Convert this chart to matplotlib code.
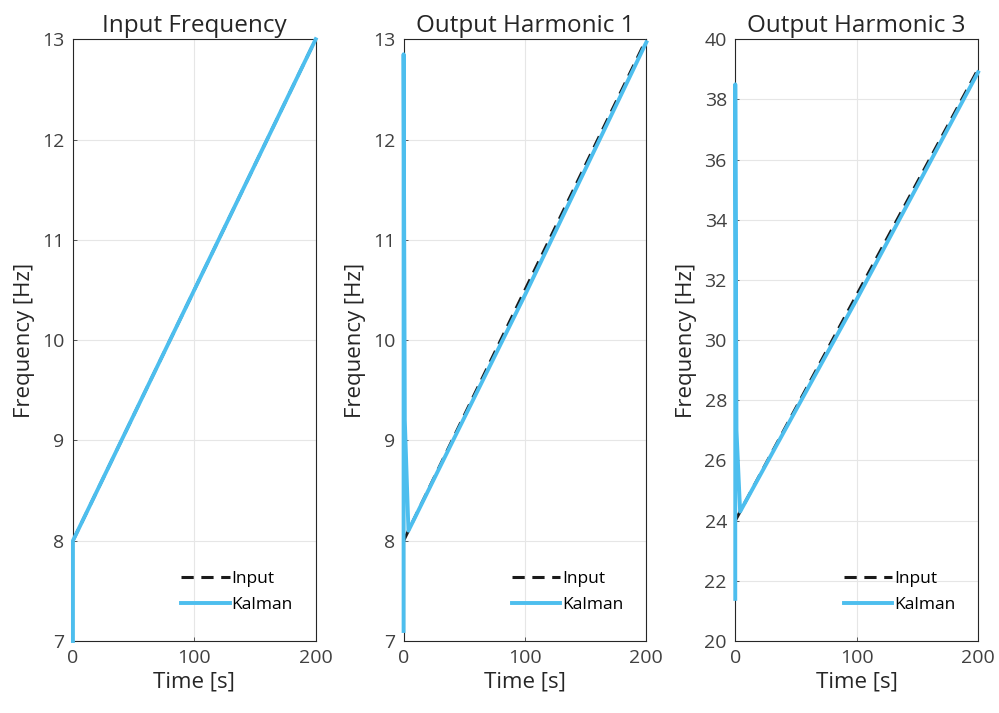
import matplotlib.pyplot as plt

# input (reference) frequency ramps
t_in = [0, 200]
f_in1 = [8, 13]
f_in3 = [24, 39]

# kalman estimates
t_k1 = [0, 0, 200]
f_k1 = [7.0, 8.0, 13.0]

t_k2 = [0, 0, 1, 4, 100, 200]
f_k2 = [7.1, 12.85, 9.2, 8.1, 10.45, 12.97]

t_k3 = [0, 0, 1, 4, 100, 200]
f_k3 = [21.4, 38.5, 27.0, 24.3, 31.35, 38.9]

titles = ["Input Frequency", "Output Harmonic 1", "Output Harmonic 3"]
ylims = [(7, 13), (7, 13), (20, 40)]
yticks = [range(7, 14), range(7, 14), range(20, 41, 2)]

plt.rcParams['font.family'] = ['Open Sans', 'DejaVu Sans']

fig = plt.figure(figsize=(9.99, 7.13), dpi=100)
lefts = [0.073, 0.404, 0.736]
axs = [fig.add_axes([l, 0.101, 0.243, 0.844]) for l in lefts]

series = [(f_in1, t_k1, f_k1), (f_in1, t_k2, f_k2), (f_in3, t_k3, f_k3)]
for n, ax in enumerate(axs):
    fin, tk, fk = series[n]
    ax.plot(t_in, fin, '--', color='#1a1a1a', lw=2.2, dashes=(4, 2.5), label='Input')
    ax.plot(tk, fk, '-', color='#4DBEEE', lw=2.8, label='Kalman', clip_on=False,
            zorder=5)
    ax.set_xlim(0, 200)
    ax.set_ylim(*ylims[n])
    ax.set_xticks([0, 100, 200])
    ax.set_yticks(list(yticks[n]))
    ax.grid(True, color='#e6e6e6', lw=0.8)
    ax.set_axisbelow(True)
    ax.tick_params(labelsize=14, colors='#404040', direction='in', length=3,
                   width=0.6, pad=6)
    for s in ax.spines.values():
        s.set_color('#262626')
        s.set_linewidth(0.8)
    ax.set_title(titles[n], fontsize=17.5, color='#262626', pad=5)
    ax.set_xlabel('Time [s]', fontsize=16, color='#262626', labelpad=3)
    ax.set_ylabel('Frequency [Hz]', fontsize=16, color='#262626', labelpad=5)
    ax.legend(loc='lower right', frameon=False, fontsize=12.5, handlelength=2.8,
              handletextpad=0.1, labelspacing=0.6, bbox_to_anchor=(0.97, 0.02))

plt.savefig("out.png", dpi=100)
